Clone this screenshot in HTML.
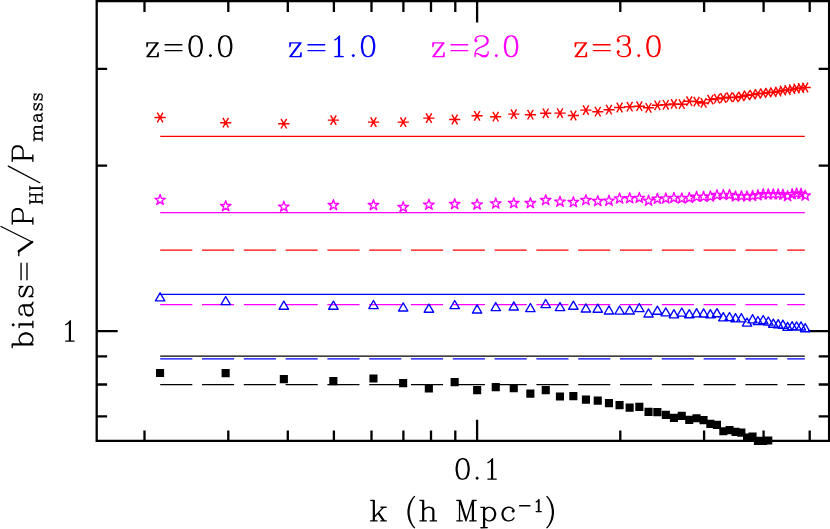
<!DOCTYPE html>
<html lang="en"><head><meta charset="utf-8"><title>bias</title>
<style>html,body{margin:0;padding:0;background:#fff;font-family:"Liberation Sans",sans-serif}svg{display:block}</style>
</head><body>
<svg width="830" height="529" viewBox="0 0 830 529" role="img" aria-label="bias = sqrt(P_HI / P_mass) versus k (h Mpc^-1) for z=0.0, z=1.0, z=2.0, z=3.0">
<defs><path id="g122_14" d="M42 -233l-5 9 0 64 2 6 9 5 6-2 5-6 14-56 126 0 1 2 -161 204 -2 7 2 6 9 5 192 0 6-2 5-9 0-64 -2-6 -9-5 -6 2 -5 6 -14 56 -126 0 -1-2 161-204 2-7 -2-6 -9-5 -192 0z"/><path id="g61_14" d="M53 -96l2 6 9 5 288 0 6-2 5-9 -2-6 -9-5 -288 0 -6 2zM53 -192l2 6 9 5 288 0 6-2 5-9 -2-6 -9-5 -288 0 -6 2z"/><path id="g48_14" d="M144 -347l-54 18 -34 49 -4 10 -15 75 0 54 16 79 33 51 8 6 45 15 37 1 54-18 34-49 4-10 15-75 0-54 -16-79 -33-51 -8-6 -45-15zM146 -325l28 0 26 13 16 16 14 28 15 75 0 50 -15 75 -14 28 -16 16 -26 13 -28 0 -26-13 -16-16 -14-28 -15-75 0-50 15-75 14-28 16-16z"/><path id="g46_14" d="M80 -43l-8 3 -16 16 -3 8 3 8 16 16 8 3 8-3 16-16 3-8 -3-8 -16-16z"/><path id="g49_14" d="M176 -347l-8 3 -48 48 -29 14 -4 4 -2 6 5 9 6 2 5-1 32-16 15-14 1 1 0 279 -57 2 -5 4 -2 6 2 6 9 5 144 0 6-2 5-9 -2-6 -9-5 -53-1 0-324 -2-6z"/><path id="g50_14" d="M72 -328l-16 16 -18 35 0 25 18 20 8 3 8-3 18-20 1-4 -3-8 -16-16 -6-3 6-13 15-15 41-14 62 0 26 13 16 16 13 26 0 28 -15 28 -42 28 -97 48 -35 34 -19 56 1 52 4 5 6 2 9-5 2-6 0-27 10-10 24 0 79 47 72 0 20-18 18-35 1-37 -2-6 -5-4 -8 0 -6 6 -1 31 -13 13 -26 13 -45 0 -76-31 -38-2 10-29 31-31 30-15 77-30 50-33 5-5 16-32 0-42 -16-32 -18-19 -51-18 -69-1z"/><path id="g51_14" d="M128 -347l-56 19 -16 16 -18 35 0 25 18 20 8 3 8-3 16-16 3-8 -3-8 -22-20 6-12 17-16 39-13 62 0 24 12 15 27 0 44 -12 24 -27 15 -50 1 -5 4 -2 6 2 6 9 5 46 0 26 13 15 15 14 41 0 46 -13 26 -16 16 -26 13 -62 0 -41-14 -15-15 -6-13 6-3 16-16 3-8 -3-8 -20-18 -4-1 -8 3 -16 16 -3 8 0 16 19 40 16 16 56 19 64 0 56-19 16-16 18-35 0-58 -18-35 -32-32 -11-6 25-9 4-4 16-32 1-53 -17-37 -8-6 -50-16z"/><path id="g107_14" d="M26 -345l-5 9 2 6 5 4 41 2 0 312 -41 2 -6 6 -1 4 2 6 9 5 112 0 6-2 5-9 -2-6 -5-4 -41-2 0-47 52-51 74 98 -25 1 -6 2 -5 9 5 9 6 2 96 0 6-2 5-9 -2-6 -9-5 -26 0 -94-125 77-77 47-1 6-6 1-4 -2-6 -9-5 -96 0 -6 2 -5 9 5 9 26 3 -120 120 -2-248 -4-5 -6-2 -64 0z"/><path id="g40_14" d="M176 -411l-8 3 -32 32 -34 51 -32 64 -17 82 0 70 17 82 32 64 34 51 32 32 8 3 9-5 2-6 -1-4 -34-36 -31-62 -15-46 -15-75 0-66 16-79 14-42 31-62 34-36 1-4 -2-6z"/><path id="g104_14" d="M26 -345l-5 9 2 6 5 4 41 2 0 312 -41 2 -6 6 -1 4 2 6 9 5 112 0 9-5 2-6 -1-4 -6-6 -41-2 0-159 30-29 39-13 30 0 24 12 15 27 0 162 -41 2 -6 6 -1 4 2 6 9 5 112 0 6-2 5-9 -2-6 -5-4 -41-2 0-164 -17-37 -8-6 -45-15 -37-1 -56 19 -12 12 -1-132 -2-6 -9-5 -64 0z"/><path id="g77_14" d="M26 -345l-5 9 2 6 5 4 41 2 0 312 -41 2 -6 6 -1 4 2 6 9 5 96 0 6-2 4-5 0-8 -6-6 -41-2 0-252 2 0 88 266 5 7 6 2 6-2 5-7 89-267 1 253 -41 2 -6 6 0 8 4 5 6 2 112 0 6-2 5-9 -2-6 -5-4 -41-2 0-312 41-2 6-6 1-4 -2-6 -9-5 -64 0 -9 5 -95 283 -95-283 -9-5 -64 0z"/><path id="g112_14" d="M28 -234l-5 4 -2 6 5 9 6 2 37 1 0 312 -41 2 -6 6 0 8 4 5 6 2 116-1 5-4 2-6 -5-9 -6-2 -37-1 0-119 1-1 15 14 37 17 37-1 51-18 32-32 18-51 1-37 -19-56 -32-32 -51-18 -42 0 -32 16 -15 14 -2-24 -6-6zM162 -213l28 0 26 13 31 31 14 41 0 32 -14 41 -31 31 -26 13 -28 0 -26-13 -29-29 0-118 29-29z"/><path id="g99_14" d="M144 -235l-56 19 -32 32 -18 51 -1 37 19 56 32 32 51 18 37 1 56-19 32-32 3-8 -1-4 -6-6 -8 0 -35 33 -41 14 -30 0 -26-13 -31-31 -14-41 0-32 13-39 32-33 26-13 44 0 26 13 16 16 -16 16 -3 8 3 8 20 18 4 1 8-3 16-16 3-8 0-16 -3-8 -32-32 -35-18z"/><path id="g45_23" d="M45 -144l3 10 6 6 10 3 288 0 10-3 6-6 3-10 -3-10 -6-6 -10-3 -288 0 -10 3 -6 6z"/><path id="g49_23" d="M182 -354l-6-1 -10 3 -49 49 -31 15 -8 10 -1 6 3 10 6 6 10 3 6-1 38-20 1 1 0 253 -45 1 -10 3 -6 6 -3 10 3 10 10 8 150 1 10-3 8-10 0-12 -2-4 -10-8 -51-2 0-316 -3-10z"/><path id="g41_14" d="M48 -411l-9 5 -2 6 1 4 34 36 31 62 15 46 15 75 0 66 -16 79 -14 42 -31 62 -34 36 -1 4 2 6 9 5 8-3 32-32 34-51 32-64 17-82 0-70 -17-82 -32-64 -34-51 -32-32z"/><path id="g98_14" d="M26 -345l-5 9 2 6 5 4 41 2 0 324 2 6 9 5 8-4 8 4 6-2 5-9 1-20 15 14 37 17 37-1 51-18 32-32 19-56 -1-37 -18-51 -32-32 -56-19 -37 1 -32 16 -15 14 -1-132 -2-6 -9-5 -64 0zM162 -213l28 0 26 13 31 31 14 41 0 32 -14 41 -31 31 -26 13 -28 0 -26-13 -29-29 0-118 29-29z"/><path id="g105_14" d="M28 -234l-5 4 -2 6 5 9 6 2 37 1 0 200 -41 2 -6 6 0 8 4 5 6 2 116-1 5-4 2-6 -5-9 -6-2 -37-1 -1-216 -4-5 -6-2zM80 -347l-8 3 -16 16 -3 8 3 8 16 16 8 3 8-3 16-16 3-8 -3-8 -16-16z"/><path id="g97_14" d="M56 -200l-3 8 0 16 2 6 9 5 16 0 6-2 5-9 0-16 -3-7 26-14 60 0 26 13 13 13 0 22 -11 11 -88 14 -52 17 -8 6 -16 32 -1 37 17 37 4 4 54 18 48 0 37-17 24-23 9 18 5 5 32 16 21 1 9-5 2-6 -2-6 -5-4 -15-1 -13-13 -13-26 -1-115 -16-32 -18-19 -40-19 -64 0 -37 17zM213 -133l0 80 -29 29 -26 13 -44 0 -27-15 -12-24 0-28 15-27 27-13z"/><path id="g115_14" d="M91 -234l-32 16 -19 18 -3 8 0 32 3 8 19 18 34 17 77 30 30 15 13 13 0 22 -13 13 -26 13 -60 0 -26-13 -16-16 -14-29 -4-4 -6-2 -6 2 -5 9 1 68 6 6 4 1 6-2 4-4 9-18 8 7 32 16 74 0 32-16 19-18 3-8 0-48 -3-8 -19-18 -34-17 -77-30 -30-15 -13-13 0-6 13-13 26-13 60 0 26 13 16 16 14 29 4 4 6 2 6-2 5-9 -1-68 -6-6 -4-1 -6 2 -4 4 -9 18 -8-7 -32-16z"/><path id="g80_14" d="M28 -346l-5 4 -2 6 5 9 6 2 37 1 0 312 -41 2 -6 6 0 8 4 5 6 2 116-1 5-4 2-6 -5-9 -6-2 -37-1 0-136 117-1 56-19 16-16 18-35 0-58 -16-32 -18-19 -51-18zM107 -324l115-1 26 13 16 16 13 26 0 44 -13 26 -16 16 -26 13 -114 0z"/><path id="g72_20" d="M23 -349l-4 4 -3 9 3 9 4 4 9 3 32 1 0 302 -32 1 -9 3 -4 4 -3 9 3 9 4 4 9 3 112 0 9-3 4-4 3-9 -3-9 -4-4 -9-3 -32-1 1-143 158 0 1 143 -32 1 -9 3 -4 4 -3 9 3 9 4 4 9 3 112 0 9-3 4-4 3-9 -3-9 -4-4 -9-3 -32-1 0-302 32-1 9-3 4-4 3-9 -3-9 -4-4 -9-3 -112 0 -9 3 -4 4 -3 9 3 9 4 4 9 3 32 1 -1 127 -158 0 -1-127 32-1 9-3 4-4 3-9 -3-9 -4-4 -9-3 -112 0z"/><path id="g73_20" d="M27 -351l-8 6 -3 9 3 9 4 4 9 3 32 1 0 302 -37 2 -8 6 -3 9 1 5 6 8 9 3 117-1 8-6 3-9 -3-9 -4-4 -9-3 -32-1 0-302 37-2 8-6 3-9 -1-5 -6-8 -9-3z"/><path id="g47_14" d="M326 -409l-6-2 -6 2 -8 11 -284 505 0 9 4 5 6 2 6-2 8-11 284-505 0-9z"/><path id="g109_20" d="M17 -229l0 10 2 4 8 6 37 2 0 190 -32 1 -9 3 -4 4 -3 9 3 9 8 6 117 1 9-3 4-4 3-9 -3-9 -4-4 -9-3 -32-1 0-153 24-24 42-14 27 0 22 11 13 24 0 156 -32 1 -9 3 -4 4 -3 9 3 9 4 4 9 3 112 0 9-3 4-4 3-9 -3-9 -4-4 -9-3 -32-1 0-153 24-24 42-14 27 0 22 11 13 24 0 156 -32 1 -9 3 -4 4 -3 9 3 9 4 4 9 3 112 0 9-3 6-8 0-10 -2-4 -8-6 -37-2 0-159 -2-8 -15-30 -11-10 -45-15 -39-1 -52 16 -23 21 -8-14 -9-7 -52-16 -39 1 -45 15 -11 9 -4-18 -4-4 -9-3 -64 0 -9 3z"/><path id="g97_20" d="M51 -201l-3 9 1 21 6 8 9 3 16 0 9-3 4-4 3-9 -1-21 20-11 58 0 26 13 9 9 0 20 -7 7 -96 16 -45 15 -9 7 -18 36 -1 37 2 8 15 30 6 7 50 18 55 1 8-2 30-15 21-20 12 18 33 17 8 2 16 0 9-3 4-4 3-9 -3-9 -8-6 -15-1 -9-9 -13-26 -1-114 -18-36 -20-20 -33-17 -8-2 -64 0 -8 2 -30 15zM208 -127l0 73 -25 25 -26 13 -42 0 -24-13 -11-22 0-26 13-24 24-12z"/><path id="g115_20" d="M88 -238l-33 17 -20 20 -3 9 0 32 3 9 23 22 34 17 77 30 30 15 9 9 0 20 -9 9 -26 13 -58 0 -26-13 -12-12 -14-29 -6-7 -9-3 -5 1 -8 6 -3 9 1 69 6 8 9 3 5-1 8-6 8-14 35 19 8 2 64 0 8-2 33-17 20-20 3-9 0-48 -3-9 -23-22 -34-17 -77-30 -30-15 -9-9 0-4 9-9 26-13 58 0 26 13 12 12 14 29 6 7 9 3 5-1 8-6 3-9 -1-69 -6-8 -9-3 -5 1 -8 6 -8 14 -35-19 -8-2 -64 0z"/></defs>
<rect x="0" y="0" width="830" height="529" fill="#fff"/>
<path d="M96.7 1.0H829.1V440.8H96.7ZM144.5 1.0v10.9M144.5 440.8v-10.4M228.3 1.0v10.9M228.3 440.8v-10.4M287.8 1.0v10.9M287.8 440.8v-10.4M333.9 1.0v10.9M333.9 440.8v-10.4M371.5 1.0v10.9M371.5 440.8v-10.4M403.4 1.0v10.9M403.4 440.8v-10.4M431.0 1.0v10.9M431.0 440.8v-10.4M455.3 1.0v10.9M455.3 440.8v-10.4M477.1 1.0v21.5M477.1 440.8v-21.0M620.3 1.0v10.9M620.3 440.8v-10.4M704.1 1.0v10.9M704.1 440.8v-10.4M763.6 1.0v10.9M763.6 440.8v-10.4M809.7 1.0v10.9M809.7 440.8v-10.4M96.7 416.4h10.4M829.1 416.4h-10.4M96.7 384.5h10.4M829.1 384.5h-10.4M96.7 356.4h10.4M829.1 356.4h-10.4M96.7 331.2h21.0M829.1 331.2h-21.0M96.7 165.6h10.4M829.1 165.6h-10.4M96.7 68.8h10.4M829.1 68.8h-10.4" fill="none" stroke="#000" stroke-width="2.3" stroke-linecap="butt"/>
<path d="M160.2 136.30H804.8" stroke="#f00" stroke-width="1.25" fill="none"/>
<path d="M160.2 212.50H804.8" stroke="#f0f" stroke-width="1.25" fill="none"/>
<path d="M160.2 250.00H804.8" stroke="#f00" stroke-width="1.25" stroke-dasharray="32.1 9.7" fill="none"/>
<path d="M160.2 294.25H804.8" stroke="#00f" stroke-width="1.25" fill="none"/>
<path d="M160.2 304.65H804.8" stroke="#f0f" stroke-width="1.25" stroke-dasharray="32.1 9.7" fill="none"/>
<path d="M160.2 356.15H804.8" stroke="#000" stroke-width="1.25" fill="none"/>
<path d="M160.2 358.90H804.8" stroke="#00f" stroke-width="1.25" stroke-dasharray="32.1 9.7" fill="none"/>
<path d="M160.2 384.65H804.8" stroke="#000" stroke-width="1.25" stroke-dasharray="32.1 9.7" fill="none"/>
<path d="M154.5 117.5L165.7 117.5M157.3 112.7L162.9 122.3M162.9 112.7L157.3 122.3M220.1 122.7L231.3 122.7M222.9 117.9L228.5 127.5M228.5 117.9L222.9 127.5M278.2 123.7L289.4 123.7M281.0 118.9L286.6 128.5M286.6 118.9L281.0 128.5M327.8 120.1L339.0 120.1M330.6 115.3L336.2 124.9M336.2 115.3L330.6 124.9M367.9 122.1L379.1 122.1M370.7 117.3L376.3 126.9M376.3 117.3L370.7 126.9M397.6 122.1L408.8 122.1M400.4 117.3L406.0 126.9M406.0 117.3L400.4 126.9M423.3 118.1L434.5 118.1M426.1 113.3L431.7 122.9M431.7 113.3L426.1 122.9M449.1 119.5L460.3 119.5M451.9 114.7L457.5 124.3M457.5 114.7L451.9 124.3M471.5 115.8L482.7 115.8M474.3 111.0L479.9 120.6M479.9 111.0L474.3 120.6M490.1 116.7L501.3 116.7M492.9 111.9L498.5 121.5M498.5 111.9L492.9 121.5M508.2 114.1L519.4 114.1M511.0 109.3L516.6 118.9M516.6 109.3L511.0 118.9M524.8 114.7L536.0 114.7M527.6 109.9L533.2 119.5M533.2 109.9L527.6 119.5M540.1 113.3L551.3 113.3M542.9 108.5L548.5 118.1M548.5 108.5L542.9 118.1M554.4 113.1L565.6 113.1M557.2 108.3L562.8 117.9M562.8 108.3L557.2 117.9M567.8 115.5L579.0 115.5M570.6 110.7L576.2 120.3M576.2 110.7L570.6 120.3M580.3 110.1L591.5 110.1M583.1 105.3L588.7 114.9M588.7 105.3L583.1 114.9M592.2 111.7L603.4 111.7M595.0 106.9L600.6 116.5M600.6 106.9L595.0 116.5M603.4 109.7L614.6 109.7M606.2 104.9L611.8 114.5M611.8 104.9L606.2 114.5M614.0 107.5L625.2 107.5M616.8 102.7L622.4 112.3M622.4 102.7L616.8 112.3M624.1 106.7L635.3 106.7M626.9 101.9L632.5 111.5M632.5 101.9L626.9 111.5M633.7 106.2L644.9 106.2M636.5 101.4L642.1 111.0M642.1 101.4L636.5 111.0M642.9 107.8L654.1 107.8M645.7 103.0L651.3 112.6M651.3 103.0L645.7 112.6M651.8 105.3L663.0 105.3M654.6 100.5L660.2 110.1M660.2 100.5L654.6 110.1M660.2 104.8L671.4 104.8M663.0 100.0L668.6 109.6M668.6 100.0L663.0 109.6M668.3 103.9L679.5 103.9M671.1 99.1L676.7 108.7M676.7 99.1L671.1 108.7M676.2 104.2L687.4 104.2M679.0 99.4L684.6 109.0M684.6 99.4L679.0 109.0M683.7 101.2L694.9 101.2M686.5 96.4L692.1 106.0M692.1 96.4L686.5 106.0M691.0 101.6L702.2 101.6M693.8 96.8L699.4 106.4M699.4 96.8L693.8 106.4M698.0 102.9L709.2 102.9M700.8 98.1L706.4 107.7M706.4 98.1L700.8 107.7M704.8 99.6L716.0 99.6M707.6 94.8L713.2 104.4M713.2 94.8L707.6 104.4M711.4 98.7L722.6 98.7M714.2 93.9L719.8 103.5M719.8 93.9L714.2 103.5M717.7 98.0L728.9 98.0M720.5 93.2L726.1 102.8M726.1 93.2L720.5 102.8M723.9 97.2L735.1 97.2M726.7 92.4L732.3 102.0M732.3 92.4L726.7 102.0M729.9 97.4L741.1 97.4M732.7 92.6L738.3 102.2M738.3 92.6L732.7 102.2M735.8 96.4L747.0 96.4M738.6 91.6L744.2 101.2M744.2 91.6L738.6 101.2M741.4 95.3L752.6 95.3M744.2 90.5L749.8 100.1M749.8 90.5L744.2 100.1M747.0 94.6L758.2 94.6M749.8 89.8L755.4 99.4M755.4 89.8L749.8 99.4M752.3 93.8L763.5 93.8M755.1 89.0L760.7 98.6M760.7 89.0L755.1 98.6M757.6 93.2L768.8 93.2M760.4 88.4L766.0 98.0M766.0 88.4L760.4 98.0M762.7 92.6L773.9 92.6M765.5 87.8L771.1 97.4M771.1 87.8L765.5 97.4M767.7 92.2L778.9 92.2M770.5 87.4L776.1 97.0M776.1 87.4L770.5 97.0M772.6 91.5L783.8 91.5M775.4 86.7L781.0 96.3M781.0 86.7L775.4 96.3M777.3 90.5L788.5 90.5M780.1 85.7L785.7 95.3M785.7 85.7L780.1 95.3M782.0 90.0L793.2 90.0M784.8 85.2L790.4 94.8M790.4 85.2L784.8 94.8M786.5 89.2L797.7 89.2M789.3 84.4L794.9 94.0M794.9 84.4L789.3 94.0M791.0 88.5L802.2 88.5M793.8 83.7L799.4 93.3M799.4 83.7L793.8 93.3M795.4 88.0L806.6 88.0M798.2 83.2L803.8 92.8M803.8 83.2L798.2 92.8M799.6 87.5L810.8 87.5M802.4 82.7L808.0 92.3M808.0 82.7L802.4 92.3" stroke="#f00" stroke-width="1.45" fill="none"/>
<path d="M160.1 194.4L161.4 198.3L165.4 198.3L162.1 200.7L163.4 204.5L160.1 202.1L156.8 204.5L158.1 200.7L154.8 198.3L158.8 198.3ZM225.7 200.6L227.0 204.5L231.0 204.5L227.7 206.9L229.0 210.7L225.7 208.3L222.4 210.7L223.7 206.9L220.4 204.5L224.4 204.5ZM283.8 201.2L285.1 205.1L289.1 205.1L285.8 207.5L287.1 211.3L283.8 208.9L280.5 211.3L281.8 207.5L278.5 205.1L282.5 205.1ZM333.4 199.6L334.7 203.5L338.7 203.5L335.4 205.9L336.7 209.7L333.4 207.3L330.1 209.7L331.4 205.9L328.1 203.5L332.1 203.5ZM373.5 199.6L374.8 203.5L378.8 203.5L375.5 205.9L376.8 209.7L373.5 207.3L370.2 209.7L371.5 205.9L368.2 203.5L372.2 203.5ZM403.2 201.6L404.5 205.5L408.5 205.5L405.2 207.9L406.5 211.7L403.2 209.3L399.9 211.7L401.2 207.9L397.9 205.5L401.9 205.5ZM428.9 199.2L430.2 203.1L434.2 203.1L430.9 205.5L432.2 209.3L428.9 206.9L425.6 209.3L426.9 205.5L423.6 203.1L427.6 203.1ZM454.7 198.6L456.0 202.5L460.0 202.5L456.7 204.9L458.0 208.7L454.7 206.3L451.4 208.7L452.7 204.9L449.4 202.5L453.4 202.5ZM477.1 199.0L478.4 202.9L482.4 202.9L479.1 205.3L480.4 209.1L477.1 206.7L473.8 209.1L475.1 205.3L471.8 202.9L475.8 202.9ZM495.7 198.0L497.0 201.9L501.1 201.9L497.8 204.3L499.0 208.1L495.7 205.7L492.5 208.1L493.7 204.3L490.4 201.9L494.5 201.9ZM513.8 197.6L515.0 201.5L519.1 201.5L515.8 203.9L517.1 207.7L513.8 205.3L510.5 207.7L511.7 203.9L508.4 201.5L512.5 201.5ZM530.4 197.6L531.6 201.5L535.7 201.5L532.4 203.9L533.6 207.7L530.4 205.3L527.1 207.7L528.3 203.9L525.0 201.5L529.1 201.5ZM545.7 194.6L547.0 198.5L551.0 198.5L547.7 200.9L549.0 204.7L545.7 202.3L542.4 204.7L543.7 200.9L540.4 198.5L544.4 198.5ZM560.0 196.2L561.3 200.1L565.3 200.1L562.0 202.5L563.3 206.3L560.0 203.9L556.7 206.3L558.0 202.5L554.7 200.1L558.7 200.1ZM573.4 196.6L574.6 200.5L578.7 200.5L575.4 202.9L576.7 206.7L573.4 204.3L570.1 206.7L571.3 202.9L568.0 200.5L572.1 200.5ZM585.9 194.6L587.2 198.5L591.3 198.5L588.0 200.9L589.2 204.7L585.9 202.3L582.6 204.7L583.9 200.9L580.6 198.5L584.7 198.5ZM597.8 195.6L599.0 199.5L603.1 199.5L599.8 201.9L601.1 205.7L597.8 203.3L594.5 205.7L595.7 201.9L592.4 199.5L596.5 199.5ZM609.0 195.2L610.2 199.1L614.3 199.1L611.0 201.5L612.3 205.3L609.0 202.9L605.7 205.3L606.9 201.5L603.6 199.1L607.7 199.1ZM619.6 193.0L620.8 196.9L624.9 196.9L621.6 199.3L622.9 203.1L619.6 200.7L616.3 203.1L617.6 199.3L614.3 196.9L618.3 196.9ZM629.7 192.8L631.0 196.7L635.0 196.7L631.7 199.1L633.0 202.9L629.7 200.5L626.4 202.9L627.7 199.1L624.4 196.7L628.4 196.7ZM639.3 192.4L640.6 196.3L644.7 196.3L641.4 198.7L642.6 202.5L639.3 200.1L636.0 202.5L637.3 198.7L634.0 196.3L638.1 196.3ZM648.5 195.2L649.8 199.1L653.9 199.1L650.6 201.5L651.8 205.3L648.5 202.9L645.3 205.3L646.5 201.5L643.2 199.1L647.3 199.1ZM657.4 193.3L658.6 197.2L662.7 197.2L659.4 199.6L660.7 203.4L657.4 201.0L654.1 203.4L655.3 199.6L652.0 197.2L656.1 197.2ZM665.8 192.9L667.1 196.8L671.1 196.8L667.9 199.2L669.1 203.0L665.8 200.6L662.5 203.0L663.8 199.2L660.5 196.8L664.6 196.8ZM673.9 192.4L675.2 196.3L679.3 196.3L676.0 198.7L677.2 202.5L673.9 200.1L670.7 202.5L671.9 198.7L668.6 196.3L672.7 196.3ZM681.8 192.9L683.0 196.8L687.1 196.8L683.8 199.2L685.1 203.0L681.8 200.6L678.5 203.0L679.7 199.2L676.4 196.8L680.5 196.8ZM689.3 192.4L690.6 196.3L694.6 196.3L691.3 198.7L692.6 202.5L689.3 200.1L686.0 202.5L687.3 198.7L684.0 196.3L688.0 196.3ZM696.6 191.3L697.8 195.2L701.9 195.2L698.6 197.6L699.9 201.4L696.6 199.0L693.3 201.4L694.5 197.6L691.2 195.2L695.3 195.2ZM703.6 191.3L704.8 195.2L708.9 195.2L705.6 197.6L706.9 201.4L703.6 199.0L700.3 201.4L701.6 197.6L698.3 195.2L702.3 195.2ZM710.4 191.0L711.6 194.9L715.7 194.9L712.4 197.3L713.7 201.1L710.4 198.7L707.1 201.1L708.3 197.3L705.1 194.9L709.1 194.9ZM717.0 189.6L718.2 193.5L722.3 193.5L719.0 195.9L720.2 199.7L717.0 197.3L713.7 199.7L714.9 195.9L711.6 193.5L715.7 193.5ZM723.3 189.4L724.6 193.3L728.7 193.3L725.4 195.7L726.6 199.5L723.3 197.1L720.0 199.5L721.3 195.7L718.0 193.3L722.1 193.3ZM729.5 189.4L730.8 193.3L734.8 193.3L731.5 195.7L732.8 199.5L729.5 197.1L726.2 199.5L727.5 195.7L724.2 193.3L728.3 193.3ZM735.5 190.9L736.8 194.8L740.8 194.8L737.6 197.2L738.8 201.0L735.5 198.6L732.2 201.0L733.5 197.2L730.2 194.8L734.3 194.8ZM741.4 190.6L742.6 194.5L746.7 194.5L743.4 196.9L744.6 200.7L741.4 198.3L738.1 200.7L739.3 196.9L736.0 194.5L740.1 194.5ZM747.0 190.9L748.3 194.8L752.4 194.8L749.1 197.2L750.3 201.0L747.0 198.6L743.7 201.0L745.0 197.2L741.7 194.8L745.8 194.8ZM752.6 190.4L753.8 194.3L757.9 194.3L754.6 196.7L755.8 200.5L752.6 198.1L749.3 200.5L750.5 196.7L747.2 194.3L751.3 194.3ZM757.9 189.8L759.2 193.7L763.3 193.7L760.0 196.1L761.2 199.9L757.9 197.5L754.6 199.9L755.9 196.1L752.6 193.7L756.7 193.7ZM763.2 188.7L764.4 192.6L768.5 192.6L765.2 195.0L766.5 198.8L763.2 196.4L759.9 198.8L761.1 195.0L757.9 192.6L761.9 192.6ZM768.3 188.8L769.6 192.7L773.6 192.7L770.3 195.1L771.6 198.9L768.3 196.5L765.0 198.9L766.3 195.1L763.0 192.7L767.0 192.7ZM773.3 188.8L774.5 192.7L778.6 192.7L775.3 195.1L776.6 198.9L773.3 196.5L770.0 198.9L771.3 195.1L768.0 192.7L772.0 192.7ZM778.2 188.8L779.4 192.7L783.5 192.7L780.2 195.1L781.5 198.9L778.2 196.5L774.9 198.9L776.1 195.1L772.8 192.7L776.9 192.7ZM782.9 189.1L784.2 193.0L788.3 193.0L785.0 195.4L786.2 199.2L782.9 196.8L779.6 199.2L780.9 195.4L777.6 193.0L781.7 193.0ZM787.6 190.6L788.8 194.5L792.9 194.5L789.6 196.9L790.9 200.7L787.6 198.3L784.3 200.7L785.5 196.9L782.3 194.5L786.3 194.5ZM792.1 188.7L793.4 192.6L797.5 192.6L794.2 195.0L795.4 198.8L792.1 196.4L788.8 198.8L790.1 195.0L786.8 192.6L790.9 192.6ZM796.6 188.0L797.8 191.9L801.9 191.9L798.6 194.3L799.9 198.1L796.6 195.7L793.3 198.1L794.6 194.3L791.3 191.9L795.3 191.9ZM801.0 188.3L802.2 192.2L806.3 192.2L803.0 194.6L804.2 198.4L801.0 196.0L797.7 198.4L798.9 194.6L795.6 192.2L799.7 192.2ZM805.2 190.1L806.5 194.0L810.5 194.0L807.3 196.4L808.5 200.2L805.2 197.8L801.9 200.2L803.2 196.4L799.9 194.0L804.0 194.0Z" stroke="#f0f" stroke-width="1.35" fill="none" stroke-linejoin="round"/>
<path d="M160.1 292.8L164.8 300.9L155.4 300.9ZM225.7 296.5L230.4 304.6L221.0 304.6ZM283.8 301.1L288.5 309.2L279.1 309.2ZM333.4 301.1L338.1 309.2L328.7 309.2ZM373.5 300.5L378.2 308.6L368.8 308.6ZM403.2 302.9L407.9 311.0L398.5 311.0ZM428.9 304.1L433.6 312.2L424.2 312.2ZM454.7 300.5L459.4 308.6L450.0 308.6ZM477.1 304.9L481.8 313.0L472.4 313.0ZM495.7 302.5L500.4 310.6L491.1 310.6ZM513.8 301.9L518.4 310.0L509.1 310.0ZM530.4 303.5L535.0 311.6L525.7 311.6ZM545.7 299.5L550.4 307.6L541.0 307.6ZM560.0 302.5L564.7 310.6L555.3 310.6ZM573.4 301.1L578.0 309.2L568.7 309.2ZM585.9 303.9L590.6 312.0L581.2 312.0ZM597.8 304.1L602.4 312.2L593.1 312.2ZM609.0 305.9L613.6 314.0L604.3 314.0ZM619.6 306.0L624.3 314.1L614.9 314.1ZM629.7 305.9L634.4 314.0L625.0 314.0ZM639.3 303.5L644.0 311.6L634.7 311.6ZM648.5 308.9L653.2 317.0L643.9 317.0ZM657.4 306.1L662.0 314.2L652.7 314.2ZM665.8 307.8L670.5 315.9L661.1 315.9ZM673.9 309.7L678.6 317.8L669.3 317.8ZM681.8 308.0L686.4 316.1L677.1 316.1ZM689.3 309.6L694.0 317.7L684.6 317.7ZM696.6 308.7L701.2 316.8L691.9 316.8ZM703.6 308.9L708.3 317.0L698.9 317.0ZM710.4 309.7L715.1 317.8L705.7 317.8ZM717.0 308.6L721.6 316.7L712.3 316.7ZM723.3 312.7L728.0 320.8L718.7 320.8ZM729.5 312.5L734.2 320.6L724.8 320.6ZM735.5 313.7L740.2 321.8L730.8 321.8ZM741.4 313.7L746.0 321.8L736.7 321.8ZM747.0 318.0L751.7 326.1L742.4 326.1ZM752.6 314.7L757.2 322.8L747.9 322.8ZM757.9 316.5L762.6 324.6L753.3 324.6ZM763.2 315.5L767.9 323.6L758.5 323.6ZM768.3 317.0L773.0 325.1L763.6 325.1ZM773.3 319.1L778.0 327.2L768.6 327.2ZM778.2 319.7L782.8 327.8L773.5 327.8ZM782.9 320.2L787.6 328.3L778.3 328.3ZM787.6 322.3L792.3 330.4L782.9 330.4ZM792.1 321.6L796.8 329.7L787.5 329.7ZM796.6 321.9L801.3 330.0L791.9 330.0ZM801.0 321.9L805.6 330.0L796.3 330.0ZM805.2 323.6L809.9 331.7L800.5 331.7Z" stroke="#00f" stroke-width="1.35" fill="none" stroke-linejoin="round"/>
<path d="M156.0 368.9h8.1v8.1h-8.1zM221.6 369.1h8.1v8.1h-8.1zM279.8 375.1h8.1v8.1h-8.1zM329.3 377.1h8.1v8.1h-8.1zM369.4 374.4h8.1v8.1h-8.1zM399.1 379.1h8.1v8.1h-8.1zM424.8 384.4h8.1v8.1h-8.1zM450.6 378.1h8.1v8.1h-8.1zM473.1 386.1h8.1v8.1h-8.1zM491.7 383.1h8.1v8.1h-8.1zM509.7 384.1h8.1v8.1h-8.1zM526.3 389.6h8.1v8.1h-8.1zM541.7 386.1h8.1v8.1h-8.1zM555.9 392.4h8.1v8.1h-8.1zM569.3 392.1h8.1v8.1h-8.1zM581.9 395.6h8.1v8.1h-8.1zM593.7 396.6h8.1v8.1h-8.1zM604.9 399.1h8.1v8.1h-8.1zM615.5 401.1h8.1v8.1h-8.1zM625.6 403.6h8.1v8.1h-8.1zM635.3 402.8h8.1v8.1h-8.1zM644.5 407.8h8.1v8.1h-8.1zM653.3 408.1h8.1v8.1h-8.1zM661.8 410.8h8.1v8.1h-8.1zM669.9 413.8h8.1v8.1h-8.1zM677.7 411.8h8.1v8.1h-8.1zM685.2 415.8h8.1v8.1h-8.1zM692.5 414.2h8.1v8.1h-8.1zM699.5 416.1h8.1v8.1h-8.1zM706.3 419.8h8.1v8.1h-8.1zM712.9 420.8h8.1v8.1h-8.1zM719.3 427.2h8.1v8.1h-8.1zM725.5 426.1h8.1v8.1h-8.1zM731.5 427.8h8.1v8.1h-8.1zM737.3 428.6h8.1v8.1h-8.1zM743.0 433.4h8.1v8.1h-8.1zM748.5 432.6h8.1v8.1h-8.1zM753.9 436.8h8.1v8.1h-8.1zM759.1 436.8h8.1v8.1h-8.1zM764.2 436.4h8.1v8.1h-8.1z" fill="#000"/>
<g fill="#000" transform="translate(143.70 56.60) scale(0.06150 0.06156)"><use href="#g122_14" transform="translate(6.5 0) scale(0.955 1)"/><use href="#g61_14" transform="translate(285.7 0) scale(0.955 1)"/><use href="#g48_14" transform="translate(692.0 0) scale(0.955 1)"/><use href="#g46_14" transform="translate(1008.4 0) scale(0.955 1)"/><use href="#g48_14" transform="translate(1172.0 0) scale(0.955 1)"/></g>
<g fill="#00f" transform="translate(286.60 56.60) scale(0.06150 0.06156)"><use href="#g122_14" transform="translate(6.5 0) scale(0.955 1)"/><use href="#g61_14" transform="translate(285.7 0) scale(0.955 1)"/><use href="#g49_14" transform="translate(692.0 0) scale(0.955 1)"/><use href="#g46_14" transform="translate(1008.4 0) scale(0.955 1)"/><use href="#g48_14" transform="translate(1172.0 0) scale(0.955 1)"/></g>
<g fill="#f0f" transform="translate(429.60 56.60) scale(0.06150 0.06156)"><use href="#g122_14" transform="translate(6.5 0) scale(0.955 1)"/><use href="#g61_14" transform="translate(285.7 0) scale(0.955 1)"/><use href="#g50_14" transform="translate(692.0 0) scale(0.955 1)"/><use href="#g46_14" transform="translate(1008.4 0) scale(0.955 1)"/><use href="#g48_14" transform="translate(1172.0 0) scale(0.955 1)"/></g>
<g fill="#f00" transform="translate(572.00 56.60) scale(0.06150 0.06156)"><use href="#g122_14" transform="translate(6.5 0) scale(0.955 1)"/><use href="#g61_14" transform="translate(285.7 0) scale(0.955 1)"/><use href="#g51_14" transform="translate(692.0 0) scale(0.955 1)"/><use href="#g46_14" transform="translate(1008.4 0) scale(0.955 1)"/><use href="#g48_14" transform="translate(1172.0 0) scale(0.955 1)"/></g>
<g fill="#000" transform="translate(453.00 479.20) scale(0.06031 0.06094)"><use href="#g48_14" transform="translate(7.2 0) scale(0.955 1)"/><use href="#g46_14" transform="translate(323.6 0) scale(0.955 1)"/><use href="#g49_14" transform="translate(487.2 0) scale(0.955 1)"/></g>
<g fill="#000" transform="translate(59.80 341.20) scale(0.06031 0.06094)"><use href="#g49_14" transform="translate(7.2 0) scale(0.955 1)"/></g>
<g fill="#000" transform="translate(368.30 520.90) scale(0.06044 0.06094)"><use href="#g107_14" transform="translate(7.6 0) scale(0.955 1)"/><use href="#g40_14" transform="translate(597.0 0) scale(0.955 1)"/><use href="#g104_14" transform="translate(823.9 0) scale(0.955 1)"/><use href="#g77_14" transform="translate(1433.0 0) scale(0.955 1)"/><use href="#g112_14" transform="translate(1831.6 0) scale(0.955 1)"/><use href="#g99_14" transform="translate(2166.8 0) scale(0.955 1)"/></g>
<g fill="#000" transform="translate(517.00 511.20) scale(0.03750 0.03750)"><use href="#g45_23" transform="translate(9.4 0) scale(0.955 1)"/></g>
<g fill="#000" transform="translate(532.70 511.60) scale(0.03594 0.03594)"><use href="#g49_23" transform="translate(7.2 0) scale(0.955 1)"/></g>
<g fill="#000" transform="translate(543.80 520.90) scale(0.06044 0.06094)"><use href="#g41_14" transform="translate(5.0 0) scale(0.955 1)"/></g>
<g transform="translate(32.90 350.00) rotate(-90)"><g fill="#000" transform="translate(0.00 0.00) scale(0.06037 0.06156)"><use href="#g98_14" transform="translate(7.6 0) scale(0.955 1)"/><use href="#g105_14" transform="translate(340.0 0) scale(0.955 1)"/><use href="#g97_14" transform="translate(519.2 0) scale(0.955 1)"/><use href="#g115_14" transform="translate(838.1 0) scale(0.955 1)"/><use href="#g61_14" transform="translate(1101.7 0) scale(0.955 1)"/></g><path d="M94.3 -14.1L98.7 -14.1" stroke="#000" stroke-width="1.3" fill="none" stroke-linecap="round"/><path d="M98.7 -14.1L108 -0.8" stroke="#000" stroke-width="2.5" fill="none" stroke-linecap="round"/><path d="M108 -0.8L123.5 -31.9" stroke="#000" stroke-width="1.3" fill="none" stroke-linecap="round"/><g fill="#000" transform="translate(123.45 0.00) scale(0.06037 0.06156)"><use href="#g80_14" transform="translate(7.9 0) scale(0.955 1)"/></g><g fill="#000" transform="translate(144.70 9.30) scale(0.03623 0.03694)"><use href="#g72_20" transform="translate(8.6 0) scale(0.955 1)"/><use href="#g73_20" transform="translate(388.0 0) scale(0.955 1)"/></g><g fill="#000" transform="translate(164.99 0.00) scale(0.06037 0.06156)"><use href="#g47_14" transform="translate(7.9 0) scale(0.955 1)"/></g><g fill="#000" transform="translate(186.24 0.00) scale(0.06037 0.06156)"><use href="#g80_14" transform="translate(7.9 0) scale(0.955 1)"/></g><g fill="#000" transform="translate(207.49 9.30) scale(0.03623 0.03694)"><use href="#g109_20" transform="translate(11.9 0) scale(0.955 1)"/><use href="#g97_20" transform="translate(535.2 0) scale(0.955 1)"/><use href="#g115_20" transform="translate(854.1 0) scale(0.955 1)"/><use href="#g115_20" transform="translate(1126.1 0) scale(0.955 1)"/></g></g>
</svg>
</body></html>
